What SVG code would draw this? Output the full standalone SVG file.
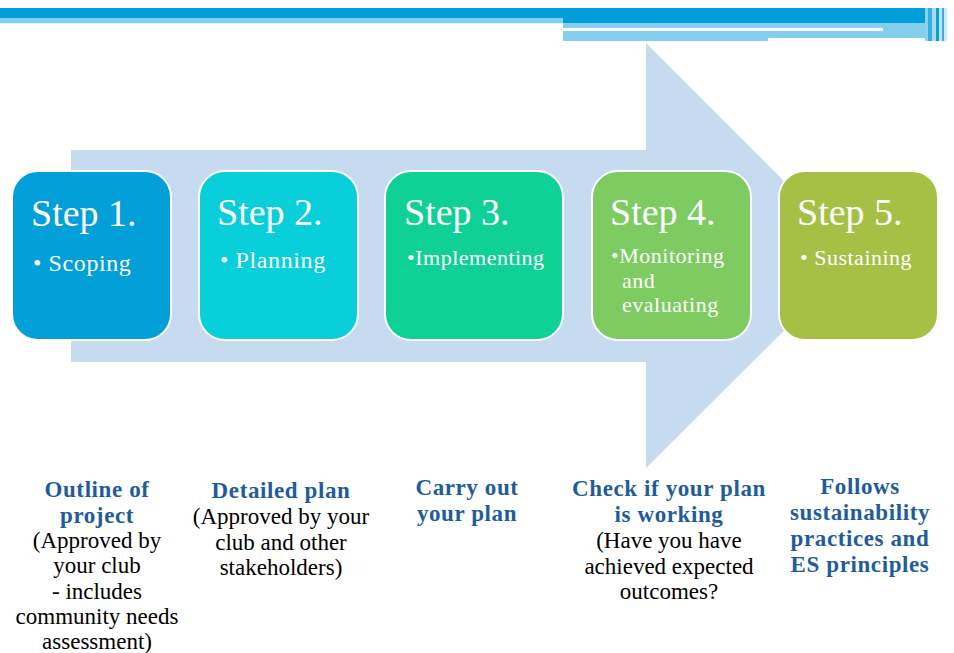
<svg xmlns="http://www.w3.org/2000/svg" width="954" height="653" viewBox="0 0 954 653">
<style>
text{font-family:"Liberation Serif","DejaVu Serif",serif}
.box{stroke:#ffffff;stroke-width:2}
.title{font-size:38px;fill:#ffffff}
.item{font-size:24px;fill:#ffffff;letter-spacing:0.6px}
.item2{font-size:22px;fill:#ffffff;letter-spacing:0.5px}
.head{font-size:23px;font-weight:bold;fill:#1F5C9B;text-anchor:middle;letter-spacing:0.6px}
.body{font-size:23px;fill:#000000;text-anchor:middle}
</style>
<rect width="954" height="653" fill="#ffffff"/>
<g id="topbar">
<rect x="0" y="8" width="925" height="10" fill="#009FD9"/>
<rect x="563" y="8" width="362" height="15" fill="#009FD9"/>
<rect x="0" y="18" width="563" height="5" fill="#85CFEE"/>
<rect x="0" y="23" width="563" height="1" fill="#DDF1FA"/>
<rect x="563" y="23" width="372" height="18" fill="#85CFEE"/>
<rect x="563" y="28" width="320" height="3" fill="#ffffff"/>
<rect x="768" y="38" width="167" height="3" fill="#ffffff"/>
<rect x="925" y="8" width="3" height="33" fill="#8FD0EE"/>
<rect x="928" y="8" width="4" height="33" fill="#35AEE0"/>
<rect x="932" y="8" width="4" height="33" fill="#A6DAF2"/>
<rect x="936" y="8" width="3" height="33" fill="#0AA0D8"/>
<rect x="939" y="8" width="3" height="33" fill="#BFE4F5"/>
<rect x="942" y="8" width="2" height="33" fill="#35AEE0"/>
<rect x="944" y="8" width="3" height="33" fill="#CDEAF7"/>
</g>
<g id="arrow">
<polygon points="71,150 646,150 646,43 859,256 646,468 646,362 71,362" fill="#C6DBEF"/>
</g>
<g id="step1">
<rect class="box" x="12" y="171" width="159" height="169" rx="26" fill="#029FD8"/>
<text class="title" x="31" y="226">Step 1.</text>
<text class="item" x="33" y="271">• Scoping</text>
</g>
<g id="step2">
<rect class="box" x="199" y="171" width="159" height="169" rx="26" fill="#08CFD9"/>
<text class="title" x="217" y="225">Step 2.</text>
<text class="item" x="220" y="268">• Planning</text>
</g>
<g id="step3">
<rect class="box" x="385" y="171" width="178" height="169" rx="26" fill="#0FD096"/>
<text class="title" x="404" y="225">Step 3.</text>
<text class="item2" x="407" y="265">•Implementing</text>
</g>
<g id="step4">
<rect class="box" x="592" y="171" width="159" height="169" rx="26" fill="#7ECB62"/>
<text class="title" x="610" y="225">Step 4.</text>
<text class="item2" x="611" y="263">•Monitoring</text>
<text class="item2" x="622" y="288">and</text>
<text class="item2" x="622" y="312">evaluating</text>
</g>
<g id="step5">
<rect class="box" x="779" y="171" width="159" height="169" rx="26" fill="#A6C046"/>
<text class="title" x="797" y="225">Step 5.</text>
<text class="item2" x="800" y="265">• Sustaining</text>
</g>
<g id="connectors"></g>
<g id="desc1">
<text class="head" x="97" y="497">Outline of</text>
<text class="head" x="97" y="523">project</text>
<text class="body" x="97" y="548">(Approved by</text>
<text class="body" x="97" y="573">your club</text>
<text class="body" x="97" y="599">- includes</text>
<text class="body" x="97" y="624">community needs</text>
<text class="body" x="97" y="649">assessment)</text>
</g>
<g id="desc2">
<text class="head" x="281" y="498">Detailed plan</text>
<text class="body" x="281" y="524">(Approved by your</text>
<text class="body" x="281" y="550">club and other</text>
<text class="body" x="281" y="575">stakeholders)</text>
</g>
<g id="desc3">
<text class="head" x="467" y="495">Carry out</text>
<text class="head" x="467" y="521">your plan</text>
</g>
<g id="desc4">
<text class="head" x="669" y="496">Check if your plan</text>
<text class="head" x="669" y="522">is working</text>
<text class="body" x="669" y="548">(Have you have</text>
<text class="body" x="669" y="574">achieved expected</text>
<text class="body" x="669" y="599">outcomes?</text>
</g>
<g id="desc5">
<text class="head" x="860" y="494">Follows</text>
<text class="head" x="860" y="520">sustainability</text>
<text class="head" x="860" y="546">practices and</text>
<text class="head" x="860" y="572">ES principles</text>
</g>
</svg>
